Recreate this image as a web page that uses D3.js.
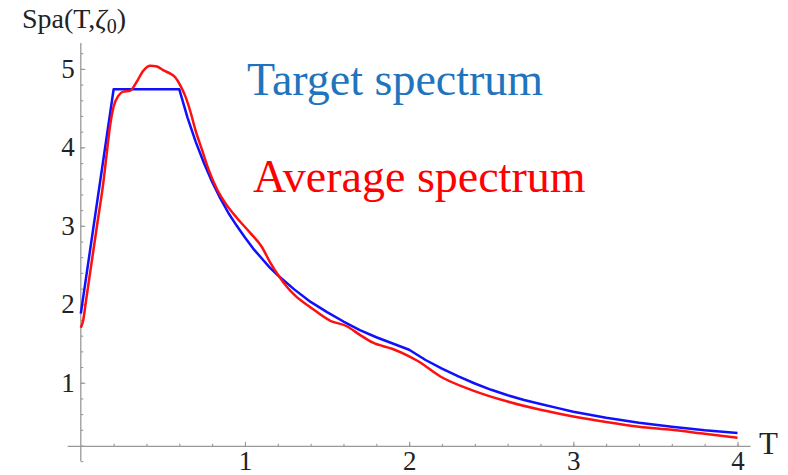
<!DOCTYPE html>
<html>
<head>
<meta charset="utf-8">
<script src="https://cdn.jsdelivr.net/npm/d3@7"></script>
<style>
  body { margin: 0; background: #fff; }
  svg { display: block; }
  .lbl { font-family: "Liberation Serif", "Times New Roman", serif; }
</style>
</head>
<body>
<svg id="chart" width="788" height="475"></svg>
<script>
// values
const targetT   = [0, 0.2, 0.6, 0.65, 0.7, 0.75, 0.8, 0.85, 0.9, 0.95, 1.0, 1.05, 1.1, 1.15, 1.2, 1.3, 1.4, 1.5, 1.6, 1.7, 1.8, 1.9, 2.0, 2.1, 2.2, 2.3, 2.4, 2.5, 2.6, 2.7, 2.8, 2.9, 3.0, 3.2, 3.4, 3.6, 3.8, 4.0];
const targetSpa = [1.88, 4.74, 4.74, 4.38, 4.07, 3.80, 3.56, 3.35, 3.16, 3.00, 2.85, 2.71, 2.59, 2.47, 2.37, 2.19, 2.03, 1.90, 1.78, 1.67, 1.58, 1.50, 1.42, 1.29, 1.18, 1.08, 0.99, 0.91, 0.84, 0.78, 0.73, 0.68, 0.63, 0.555, 0.49, 0.44, 0.395, 0.36];

const averageT   = [0, 0.015, 0.03, 0.06, 0.1, 0.139, 0.16, 0.18, 0.2, 0.23, 0.26, 0.3, 0.315, 0.342, 0.382, 0.423, 0.464, 0.504, 0.545, 0.576, 0.606, 0.637, 0.667, 0.697, 0.738, 0.778, 0.829, 0.89, 0.951, 1.032, 1.103, 1.154, 1.209, 1.256, 1.306, 1.4, 1.52, 1.62, 1.7, 1.78, 1.9, 1.997, 2.05, 2.19, 2.39, 2.6, 2.8, 3.0, 3.2, 3.4, 3.6, 3.8, 4.0];
const averageSpa = [1.70, 1.80, 2.02, 2.45, 3.02, 3.58, 3.96, 4.30, 4.52, 4.66, 4.71, 4.72, 4.75, 4.84, 4.98, 5.04, 5.03, 4.98, 4.94, 4.89, 4.79, 4.65, 4.46, 4.23, 3.97, 3.72, 3.47, 3.26, 3.10, 2.91, 2.73, 2.53, 2.35, 2.22, 2.11, 1.96, 1.79, 1.72, 1.61, 1.51, 1.43, 1.34, 1.28, 1.08, 0.90, 0.76, 0.655, 0.57, 0.50, 0.44, 0.40, 0.35, 0.30];

const xMajor = [1, 2, 3, 4];
const yMajor = [1, 2, 3, 4, 5];

const svg = d3.select('#chart');
const serif = '"Liberation Serif", "Times New Roman", serif';
const axisColor = '#999';

const x = d3.scaleLinear().domain([0, 4]).range([80.8, 737.5]);
const y = d3.scaleLinear().domain([0, 5.33]).range([461.2, 43]);
const xAxisY = y(0.19);

// y axis
const yMinor = svg.append('g')
  .attr('transform', `translate(${x(0)},0)`)
  .call(d3.axisLeft(y).tickValues(d3.range(0, 5.21, 0.2)).tickSizeInner(-2.5).tickSizeOuter(0).tickFormat(''));
yMinor.select('.domain').remove();

const yAx = svg.append('g')
  .attr('transform', `translate(${x(0)},0)`)
  .call(d3.axisLeft(y).tickValues(yMajor).tickSizeInner(-4.5).tickSizeOuter(0).tickPadding(6).tickFormat(d3.format('d')));
yAx.select('.domain').remove();

// x axis
const xMinor = svg.append('g')
  .attr('transform', `translate(0,${xAxisY})`)
  .call(d3.axisBottom(x).tickValues(d3.range(0.2, 4.01, 0.2)).tickSizeInner(-2.5).tickSizeOuter(0).tickFormat(''));
xMinor.select('.domain').remove();

const xAx = svg.append('g')
  .attr('transform', `translate(0,${xAxisY})`)
  .call(d3.axisBottom(x).tickValues(xMajor).tickSizeInner(-4.5).tickSizeOuter(0).tickFormat(d3.format('d')));
xAx.select('.domain').remove();
xAx.selectAll('text').attr('y', 23.5).attr('dy', 0);

// d3 puts font attrs on the axis group, override on the group itself
[yAx, xAx].forEach(g => g.attr('font-family', serif).attr('font-size', 27));

svg.selectAll('.tick line').attr('stroke', axisColor).attr('stroke-width', 1.1);
svg.selectAll('.tick text')
  .classed('lbl', true)
  .style('font-size', '27px')
  .attr('fill', '#222');

// axis lines
svg.append('line')
  .attr('x1', x(0)).attr('x2', x(0))
  .attr('y1', y(5.33)).attr('y2', y(0))
  .attr('stroke', axisColor).attr('stroke-width', 1.3);
svg.append('line')
  .attr('x1', x(-0.08)).attr('x2', x(4.08))
  .attr('y1', xAxisY).attr('y2', xAxisY)
  .attr('stroke', axisColor).attr('stroke-width', 1.3);

// curves
const targetLine = d3.line()
  .x((d, i) => x(targetT[i]))
  .y(d => y(d));
const averageLine = d3.line()
  .x((d, i) => x(averageT[i]))
  .y(d => y(d))
  .curve(d3.curveMonotoneX);

svg.append('path')
  .attr('d', targetLine(targetSpa))
  .attr('fill', 'none')
  .attr('stroke', '#1010ff')
  .attr('stroke-width', 2.5)
  .attr('stroke-linejoin', 'round');

svg.append('path')
  .attr('d', averageLine(averageSpa))
  .attr('fill', 'none')
  .attr('stroke', '#ff1010')
  .attr('stroke-width', 2.5)
  .attr('stroke-linejoin', 'round');

// axis labels
const yLab = svg.append('text')
  .attr('x', 22).attr('y', 28)
  .attr('font-family', serif)
  .attr('font-size', 28)
  .attr('fill', '#222');
yLab.append('tspan').text('Spa(T,');
yLab.append('tspan').attr('font-style', 'italic').text('ζ');
yLab.append('tspan').attr('font-size', 20).attr('dy', 5).text('0');
yLab.append('tspan').attr('dy', -5).text(')');

svg.append('text')
  .attr('x', 759).attr('y', 454)
  .attr('font-family', serif)
  .attr('font-size', 31)
  .attr('fill', '#222')
  .text('T');

// legend texts
svg.append('text')
  .attr('x', 247).attr('y', 95)
  .attr('font-family', serif)
  .attr('font-size', 46)
  .attr('fill', '#1f74bd')
  .text('Target spectrum');

svg.append('text')
  .attr('x', 253).attr('y', 192)
  .attr('font-family', serif)
  .attr('font-size', 46)
  .attr('fill', '#ff0000')
  .text('Average spectrum');
</script>
</body>
</html>
